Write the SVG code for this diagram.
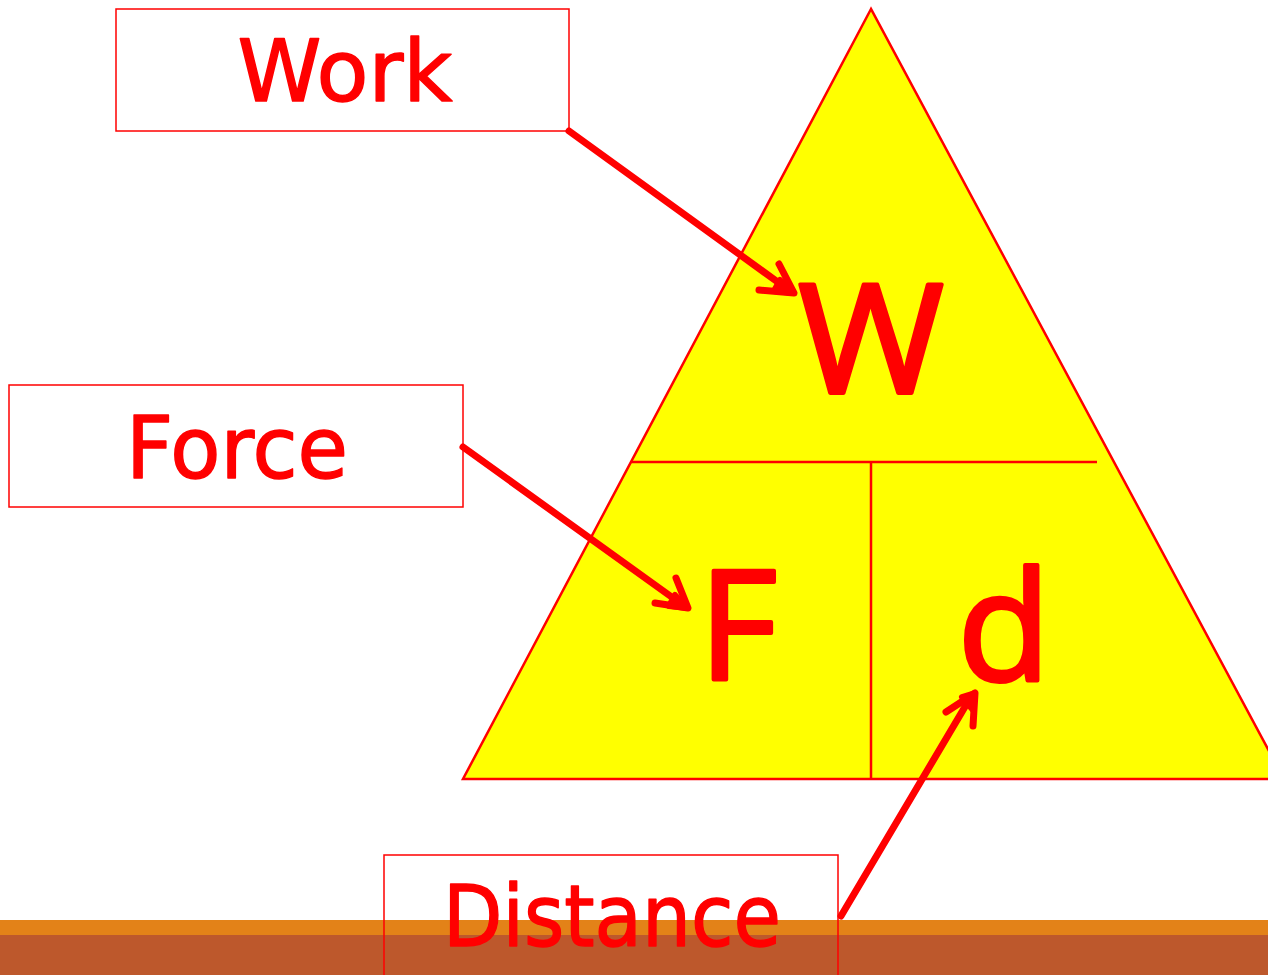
<svg xmlns="http://www.w3.org/2000/svg" width="1268" height="975" viewBox="0 0 1268 975">
<style>
.box{fill:none;stroke:#ff0000;stroke-width:1.5}
.lbl{font-family:"Comic Sans MS","DejaVu Sans",sans-serif;font-size:86px;fill:#ff0000;stroke:#ff0000;stroke-width:1.5;stroke-linejoin:round;text-anchor:middle}
.big{font-family:"Open Sans","Liberation Sans",sans-serif;font-size:152px;fill:#ff0000;stroke:#ff0000;stroke-width:4;stroke-linejoin:round;text-anchor:middle}
.tri{fill:#ffff00;stroke:#ff0000;stroke-width:2.5}
.div{stroke:#ff0000;stroke-width:2.5;fill:none}
.arr{stroke:#ff0000;stroke-width:7;fill:none;stroke-linecap:round;stroke-linejoin:round}
.head{fill:#ff0000;stroke:#ff0000;stroke-width:6;stroke-linejoin:round;stroke-linecap:round}
</style>
<rect width="1268" height="975" fill="#ffffff"/>
<g id="triangle">
<polygon class="tri" points="871,9 463,779 1284,779"/>
<line class="div" x1="631" y1="462" x2="1097" y2="462"/>
<line class="div" x1="871" y1="462" x2="871" y2="779"/>
<text class="big" x="871" y="393" textLength="146" lengthAdjust="spacingAndGlyphs">W</text>
<text class="big" x="738" y="680">F</text>
<text class="big" x="1004" y="681">d</text>
</g>
<g id="bars">
<rect x="0" y="920" width="1268" height="15" fill="#e38218"/>
<rect x="0" y="935" width="1268" height="40" fill="#bd582c"/>
</g>
<g id="work">
<rect class="box" x="116" y="9" width="453" height="122" fill="#ffffff"/>
<text class="lbl" x="345" y="101" textLength="215" lengthAdjust="spacingAndGlyphs">Work</text>
</g>
<g id="force">
<rect class="box" x="9" y="385" width="454" height="122" fill="#ffffff"/>
<text class="lbl" x="237" y="478" textLength="222" lengthAdjust="spacingAndGlyphs">Force</text>
</g>
<g id="distance">
<rect class="box" x="384" y="855" width="454" height="130"/>
<text class="lbl" x="612" y="946" textLength="338" lengthAdjust="spacingAndGlyphs">Distance</text>
</g>
<g id="connectors">
<line class="arr" x1="569" y1="131" x2="786" y2="288"/>
<path class="arr" d="M759,290 L794,293 L779,264"/>
<path class="head" d="M780,280 L794,293 L774,291 Z"/>
<line class="arr" x1="463" y1="447" x2="680" y2="603"/>
<path class="arr" d="M655,603 L688,608 L676,578"/>
<path class="head" d="M675,595 L688,608 L669,606 Z"/>
<line class="arr" x1="841" y1="916" x2="969" y2="700"/>
<path class="arr" d="M946,712 L975,693 L973,726"/>
<path class="head" d="M962,697 L975,693 L973,710 Z"/>
</g>
</svg>
